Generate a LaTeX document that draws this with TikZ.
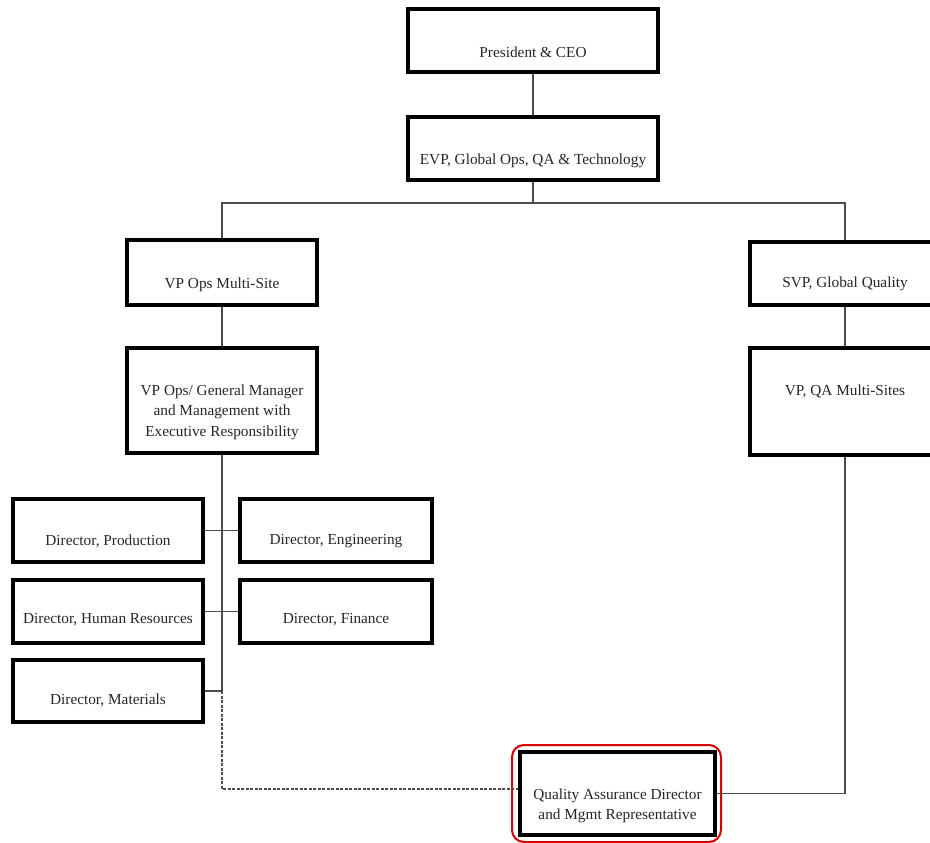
\documentclass[tikz,border=0pt]{standalone}
\usepackage{fontspec}
\setmainfont{Liberation Serif}
\begin{document}
\begin{tikzpicture}[x=1pt,y=-1pt,
  box/.style={draw=black,line width=3.4pt,fill=white,inner sep=0pt},
  lbl/.style={text=black!85,font=\fontsize{15.3}{20.5}\selectfont,align=center,inner sep=0pt},
  conn/.style={draw=black!70,line width=1.5pt},
  dconn/.style={draw=black!70,line width=1.5pt,dash pattern=on 3pt off 1.5pt},
  hl/.style={draw=red!85!black,line width=2pt,rounded corners=12pt}]
\clip (0,0) rectangle (930,843);
\fill[white] (0,0) rectangle (930,843);
% boxes
\node[box,minimum width=250,minimum height=63] (pres) at (533,40.5) {};
\node[box,minimum width=250,minimum height=63] (evp) at (533,148.5) {};
\node[box,minimum width=190,minimum height=65] (vpops) at (222,272.5) {};
\node[box,minimum width=190,minimum height=105] (gm) at (222,400.5) {};
\node[box,minimum width=190,minimum height=63] (svp) at (845,273.5) {};
\node[box,minimum width=190,minimum height=107] (vpqa) at (845,401.5) {};
\node[box,minimum width=190,minimum height=63] (prod) at (108,530.5) {};
\node[box,minimum width=192,minimum height=63] (eng) at (336,530.5) {};
\node[box,minimum width=190,minimum height=63] (hr) at (108,611.5) {};
\node[box,minimum width=192,minimum height=63] (fin) at (336,611.5) {};
\node[box,minimum width=190,minimum height=62] (mat) at (108,691) {};
\node[box,minimum width=195,minimum height=83] (qa) at (617.5,793.5) {};
\draw[hl] (512,745) rectangle (721,842);
% labels
\node[lbl] (tpres) at (533,52) {President \& CEO};
\node[lbl] (tevp) at (533,161) {EVP, Global Ops, QA \& Technology};
\node[lbl] (tvpops) at (222,285) {VP Ops Multi-Site};
\node[lbl] (tgm) at (222,412) {VP Ops/ General Manager\\and Management with\\Executive Responsibility};
\node[lbl] (tsvp) at (845,284) {SVP, Global Quality};
\node[lbl] (tvpqa) at (845,391) {VP, QA Multi-Sites};
\node[lbl] (tprod) at (108,541) {Director, Production};
\node[lbl] (teng) at (336,541) {Director, Engineering};
\node[lbl] (thr) at (108,620) {Director, Human Resources};
\node[lbl] (tfin) at (336,620) {Director, Finance};
\node[lbl] (tmat) at (108,700) {Director, Materials};
\node[lbl] (tqa) at (617.5,806) {Quality Assurance Director\\and Mgmt Representative};
% connectors
\coordinate (bus) at (533,203);
\coordinate (spineend) at (222,691);
\coordinate (dcorner) at (222,789);
\draw[conn] (pres.south) -- (evp.north);
\draw[conn] (evp.south) -- (bus);
\draw[conn] (vpops.north) -- (vpops.north |- bus) -- (svp.north |- bus) -- (svp.north);
\draw[conn] (vpops.south) -- (gm.north);
\draw[conn] (svp.south) -- (vpqa.north);
\draw[conn] (gm.south) -- (spineend);
\draw[conn] (prod.east) -- (eng.west);
\draw[conn] (hr.east) -- (fin.west);
\draw[conn] (mat.east) -- (spineend);
\draw[dconn] (spineend) -- (dcorner) -- (dcorner -| qa.west);
\draw[conn] (vpqa.south) -- (vpqa.south |- qa.east) -- (qa.east);
\end{tikzpicture}
\end{document}
